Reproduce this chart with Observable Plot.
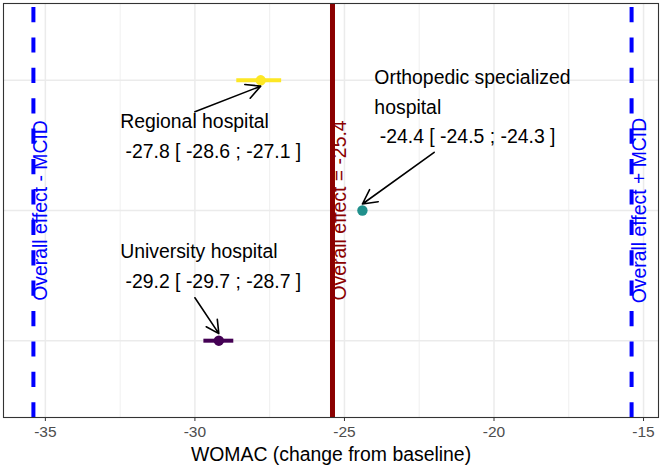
<!DOCTYPE html>
<html>
<head>
<meta charset="utf-8">
<script src="https://cdn.jsdelivr.net/npm/d3@7"></script>
<script src="https://cdn.jsdelivr.net/npm/@observablehq/plot@0.6"></script>
<style>
  html, body { margin: 0; padding: 0; background: #fff; }
  #chart svg text { white-space: pre; }
</style>
</head>
<body>
<div id="chart"></div>
<script>
// Hospital types, listed from the top row down
const hospitals = ["Regional hospital", "Orthopedic specialized\nhospital", "University hospital"];
const estimates = [-27.8, -24.4, -29.2];
const lowerCI = [-28.6, -24.5, -29.7];
const upperCI = [-27.1, -24.3, -28.7];
const hospitalColors = ["#FDE725", "#21908C", "#440154"];

// Pooled effect and minimal clinically important difference
const overallEffect = -25.4;
const mcid = 10;

const majorTicks = [-35, -30, -25, -20, -15];
const minorTicks = [-32.5, -27.5, -22.5, -17.5];

const xDomain = [-36.4, -14.5];
const yDomain = [0.41, 3.59];

// Annotation layout: label anchor (last line baseline) and arrow start,
// y given relative to each hospital's row
const labelLayout = [
  {labelX: -32.5, labelDy: -0.593, fromX: -30, fromDy: -0.242, tipDy: -0.045},
  {labelX: -24.0, labelDy: 0.52, fromX: -22, fromDy: 0.447, tipDy: 0.05},
  {labelX: -32.5, labelDy: 0.407, fromX: -30, fromDy: 0.33, tipDy: 0.054}
];

const fmt = v => v.toFixed(1);
const n = hospitals.length;
const rows = hospitals.map((name, i) => ({
  name,
  row: n - i,
  est: estimates[i],
  lo: lowerCI[i],
  hi: upperCI[i],
  color: hospitalColors[i],
  ...labelLayout[i],
  label: `${name}\n ${fmt(estimates[i])} [ ${fmt(lowerCI[i])} ; ${fmt(upperCI[i])} ]`
}));

const mcidLines = [
  {x: overallEffect - mcid, label: "Overall effect - MCID"},
  {x: overallEffect + mcid, label: "Overall effect + MCID"}
];
const effectLine = [{x: overallEffect, label: `Overall effect = ${overallEffect}`}];

const font = "'Liberation Sans', Arial, Helvetica, sans-serif";
const textSize = 19.4;

const chart = Plot.plot({
  width: 662,
  height: 466,
  marginLeft: 3,
  marginRight: 4,
  marginTop: 3,
  marginBottom: 49,
  style: {fontFamily: font, fontSize: `${textSize}px`, background: "white", overflow: "visible"},
  x: {domain: xDomain},
  y: {domain: yDomain, axis: null},
  color: {type: "identity"},
  marks: [
    // panel grid
    Plot.gridX(minorTicks, {stroke: "#EBEBEB", strokeOpacity: 1, strokeWidth: 0.8}),
    Plot.gridX(majorTicks, {stroke: "#EBEBEB", strokeOpacity: 1, strokeWidth: 1.5}),
    Plot.gridY(rows.map(d => d.row), {stroke: "#EBEBEB", strokeOpacity: 1, strokeWidth: 1.5}),

    // overall effect and ± MCID reference lines
    Plot.ruleX(mcidLines, {x: "x", stroke: "blue", strokeWidth: 4, strokeDasharray: "15.2,15.2", strokeDashoffset: 26.4}),
    Plot.ruleX(effectLine, {x: "x", stroke: "#8B0000", strokeWidth: 5}),
    Plot.text(mcidLines, {x: "x", y: () => 2, text: "label", rotate: -90, dx: 14, lineAnchor: "bottom", textAnchor: "middle", fill: "blue", fontSize: textSize}),
    Plot.text(effectLine, {x: "x", y: () => 2, text: "label", rotate: -90, dx: 14, lineAnchor: "bottom", textAnchor: "middle", fill: "#8B0000", fontSize: textSize}),

    // confidence intervals and estimates
    Plot.ruleY(rows, {y: "row", x1: "lo", x2: "hi", stroke: d => d.color, strokeWidth: 4}),
    Plot.dot(rows, {x: "est", y: "row", r: 5.2, fill: d => d.color, stroke: null}),

    // annotations
    Plot.arrow(rows, {
      x1: "fromX", y1: d => d.row + d.fromDy,
      x2: "est", y2: d => d.row + d.tipDy,
      stroke: "black", strokeWidth: 1.6, headLength: 15, headAngle: 55
    }),
    Plot.text(rows, {
      x: "labelX", y: d => d.row + d.labelDy, text: "label",
      textAnchor: "start", lineAnchor: "bottom", lineHeight: 1.51,
      fill: "black", fontSize: textSize
    }),

    // x axis
    Plot.axisX(majorTicks, {
      tickSize: 4, tickPadding: 4, stroke: "#333333", fill: "#4D4D4D",
      fontSize: 15.5, label: null, tickFormat: d => `${d}`
    }),
    Plot.text(["WOMAC (change from baseline)"], {
      frameAnchor: "bottom", dy: 43, lineAnchor: "bottom",
      fill: "black", fontSize: textSize
    }),

    Plot.frame({stroke: "#333333", strokeWidth: 1.1})
  ]
});

document.getElementById("chart").appendChild(chart);
</script>
</body>
</html>
